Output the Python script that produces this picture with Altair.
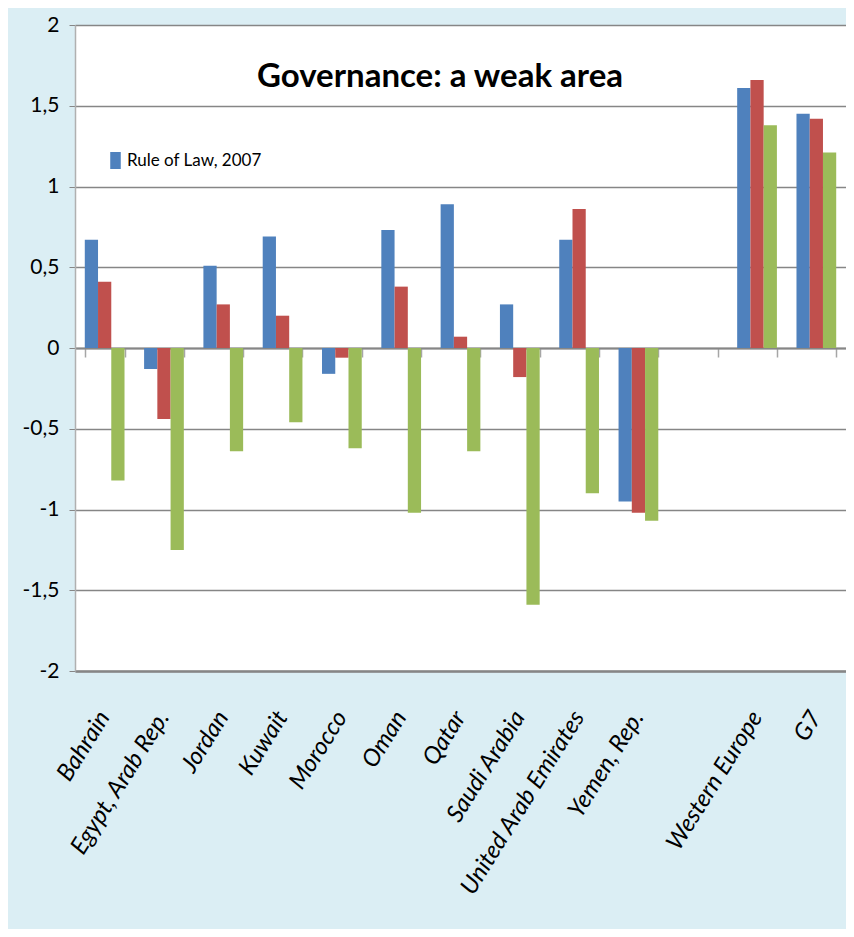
import altair as alt
import pandas as pd

categories = ["Bahrain", "Egypt, Arab Rep.", "Jordan", "Kuwait", "Morocco", "Oman",
              "Qatar", "Saudi Arabia", "United Arab Emirates", "Yemen, Rep.", " ",
              "Western Europe", "G7"]
series_names = ["Rule of Law, 2007", "Series 2", "Series 3"]
colors = ["#4F81BD", "#C0504D", "#9BBB59"]

blue = [0.67, -0.13, 0.51, 0.69, -0.16, 0.73, 0.89, 0.27, 0.67, -0.95, None, 1.61, 1.45]
red = [0.41, -0.44, 0.27, 0.20, -0.06, 0.38, 0.07, -0.18, 0.86, -1.02, None, 1.66, 1.42]
green = [-0.82, -1.25, -0.64, -0.46, -0.62, -1.02, -0.64, -1.59, -0.90, -1.07, None, 1.38, 1.21]

y_ticks = [-2, -1.5, -1, -0.5, 0, 0.5, 1, 1.5, 2]
title_text = "Governance: a weak area"

rows = []
for name, vals in zip(series_names, [blue, red, green]):
    for c, v in zip(categories, vals):
        if v is not None:
            rows.append({"category": c, "series": name, "value": v})
df = pd.DataFrame(rows)

FONT = "Lato, Liberation Sans, sans-serif"
W, H = 771, 646

xscale = alt.Scale(domain=categories, paddingInner=0.33, paddingOuter=0.165)
yscale = alt.Scale(domain=[-2, 2], nice=False)

yaxis = alt.Axis(values=y_ticks, labelExpr="replace(toString(datum.value), '.', ',')",
                 title=None, grid=True, gridColor="#868686", gridWidth=1.3,
                 domainColor="#B0B0B0", domainWidth=1.5, tickColor="#868686",
                 tickSize=6, labelFont=FONT, labelFontSize=21, labelColor="black",
                 labelPadding=10, labelLimit=0)

bars = alt.Chart(df).mark_bar().encode(
    x=alt.X("category:N", scale=xscale,
            axis=alt.Axis(orient="bottom", offset=-(H / 2), labels=False, title=None,
                          domainColor="#868686", domainWidth=2, tickColor="#A6A6A6",
                          tickWidth=1.5, tickSize=9, tickBand="extent", grid=False)),
    xOffset=alt.XOffset("series:N", scale=alt.Scale(domain=series_names, paddingInner=0)),
    y=alt.Y("value:Q", scale=yscale, axis=yaxis),
    color=alt.Color("series:N",
                    scale=alt.Scale(domain=series_names, range=colors),
                    legend=alt.Legend(values=[series_names[0]], orient="none",
                                      legendX=32, legendY=127, title=None,
                                      symbolType="M-0.62,-1H0.62V1H-0.62Z",
                                      symbolSize=289, symbolStrokeWidth=0,
                                      labelFont=FONT, labelFontSize=17, labelLimit=0,
                                      labelColor="black", labelOffset=3, padding=0)),
)

labels_layer = alt.Chart(df).mark_point(opacity=0).encode(
    x=alt.X("category:N", scale=xscale,
            axis=alt.Axis(orient="bottom", title=None, labelAngle=-58,
                          labelFont=FONT, labelFontSize=24, labelFontStyle="italic",
                          labelColor="black", labelPadding=42, ticks=False,
                          labelLimit=0,
                          domainColor="#868686", domainWidth=2.5, grid=False)),
    y=alt.Y("value:Q", scale=yscale),
)

title = alt.Chart(pd.DataFrame({"t": [title_text]})).mark_text(
    font=FONT, fontSize=33, fontWeight="bold", color="black", baseline="alphabetic",
    align="center"
).encode(x=alt.value(365), y=alt.value(62), text="t:N")

chart = alt.layer(bars, labels_layer, title).resolve_axis(x="independent").properties(
    width=W, height=H,
    autosize=alt.AutoSizeParams(type="none"),
    padding={"left": 67, "top": 17, "right": 0, "bottom": 258},
    background="#DBEEF4",
).configure_view(fill="white", stroke=None)

chart.save("out.html", embed_options={"renderer": "svg", "actions": False})
